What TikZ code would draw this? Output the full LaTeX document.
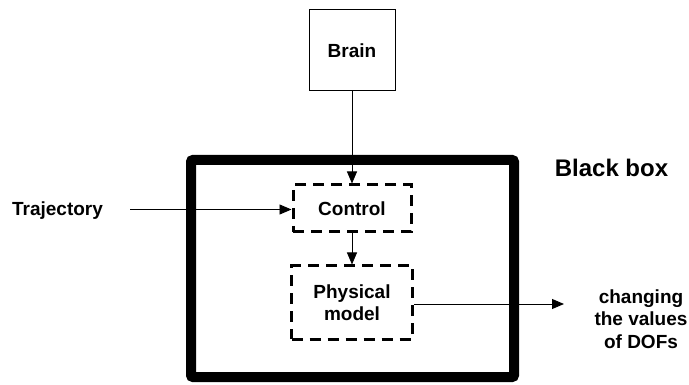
\documentclass[tikz,border=0pt]{standalone}
\usepackage{fontspec}
\setmainfont{Liberation Sans}
\usetikzlibrary{arrows.meta}
\begin{document}
\begin{tikzpicture}[x=1pt,y=-1pt,
  lbl/.style={font=\fontsize{19}{22.5}\selectfont\bfseries, align=center, inner sep=0pt},
  solidbox/.style={draw, line width=1pt, minimum width=86pt, minimum height=81pt, inner sep=0pt},
  dashbox/.style={draw, line width=3pt, dash pattern=on 11pt off 7pt, inner sep=0pt},
  conn/.style={line width=0.9pt, -{Triangle[length=12pt,width=10pt]}}]
\useasboundingbox (0,0) rectangle (689,385);
\draw[line width=10pt, rounded corners=2pt] (191,160) rectangle (514,377);
\node[solidbox, lbl] (brain) at (352,50.5) {Brain};
\node[dashbox, lbl, minimum width=118pt, minimum height=47pt] (control) at (352,208.5) {Control};
\node[dashbox, lbl, minimum width=121pt, minimum height=73pt] (phys) at (352,302.5) {Physical\\model};
\node[lbl] (traj) at (57.5,211) {Trajectory};
\node[lbl, font=\fontsize{24}{28}\selectfont\bfseries] (bb) at (611.5,168) {Black box};
\node[lbl, font=\fontsize{19}{22.5}\selectfont\bfseries] (out) at (641,319) {changing\\the values\\of DOFs};
\coordinate (trajend) at (130,209.5);
\coordinate (outend) at (564,304);
\draw[conn] (brain.south) -- (control.north);
\draw[conn] (control.south) -- (phys.north);
\draw[conn] (trajend) -- (control.west |- trajend);
\draw[conn] (phys.east |- outend) -- (outend);
\end{tikzpicture}
\end{document}
